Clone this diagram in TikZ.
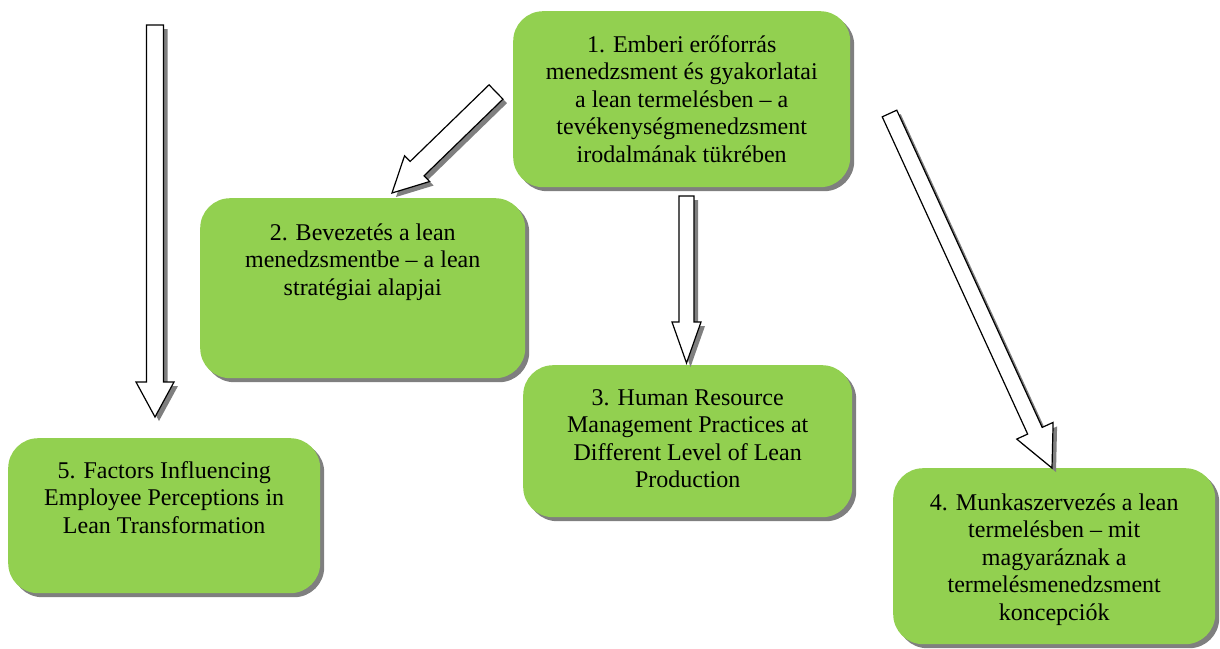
\documentclass[tikz,border=0pt]{standalone}
\usepackage{fontspec}
\setmainfont{Liberation Serif}
\usetikzlibrary{calc,shadows}
\definecolor{boxgreen}{HTML}{92D050}
\definecolor{shadowgray}{HTML}{7F7F7F}
\tikzset{
  greenbox/.style={draw=none, fill=boxgreen, rounded corners=30pt, inner sep=0pt,
    anchor=north west, general shadow={fill=shadowgray, shadow xshift=4pt, shadow yshift=-4pt}},
  boxtext/.style={anchor=base, align=center, inner sep=0pt, font=\fontsize{24}{27.6}\selectfont},
  blockarrow/.style={draw=black, line width=1.2pt, fill=white, line join=miter,
    general shadow={fill=shadowgray, shadow xshift=4pt, shadow yshift=-4pt}}
}
% tail, tip, half shaft width, half head width, head length
\newcommand{\blkarrow}[5]{%
  \coordinate (#1-#2-h) at ($(#2)!#5!(#1)$);
  \draw[blockarrow] ($(#1)!#3!90:(#2)$) -- ($(#1-#2-h)!#3!90:(#2)$) -- ($(#1-#2-h)!#4!90:(#2)$)
    -- (#2) -- ($(#1-#2-h)!#4!-90:(#2)$) -- ($(#1-#2-h)!#3!-90:(#2)$) -- ($(#1)!#3!-90:(#2)$) -- cycle;
}
\begin{document}
\begin{tikzpicture}[x=1pt,y=-1pt]
\useasboundingbox (0,0) rectangle (1220,648);

% boxes
\node[greenbox, minimum width=337pt, minimum height=176pt] (b1) at (513,11) {};
\node[greenbox, minimum width=325pt, minimum height=180pt] (b2) at (200,198) {};
\node[greenbox, minimum width=329pt, minimum height=152pt] (b3) at (523,365) {};
\node[greenbox, minimum width=322pt, minimum height=176pt] (b4) at (893,468) {};
\node[greenbox, minimum width=312pt, minimum height=155pt] (b5) at (8,438) {};

% texts (anchored at the baseline of their last line)
\node[boxtext] (t1) at ($(b1.north)+(0,151.4)$) {1. Emberi erőforrás\\menedzsment és gyakorlatai\\a lean termelésben – a\\tevékenységmenedzsment\\irodalmának tükrében};
\node[boxtext] (t2) at ($(b2.north)+(0,97.2)$) {2. Bevezetés a lean\\menedzsmentbe – a lean\\stratégiai alapjai};
\node[boxtext] (t3) at ($(b3.north)+(0,122.8)$) {3. Human Resource\\Management Practices at\\Different Level of Lean\\Production};
\node[boxtext] (t4) at ($(b4.north)+(0,152.4)$) {4. Munkaszervezés a lean\\termelésben – mit\\magyaráznak a\\termelésmenedzsment\\koncepciók};
\node[boxtext] (t5) at ($(b5.north)+(0,95.2)$) {5. Factors Influencing\\Employee Perceptions in\\Lean Transformation};

% arrows
\coordinate (a5t) at (155,25);
\coordinate (a5p) at (155,417);
\coordinate (a3t) at (686.5,196);
\coordinate (a3p) at (686.5,363);
\coordinate (a2t) at (496,92);
\coordinate (a2p) at (392,193);
\coordinate (a4t) at (889.5,113.5);
\coordinate (a4p) at (1052,468);

\blkarrow{a5t}{a5p}{8.5pt}{19pt}{35pt}
\blkarrow{a3t}{a3p}{7.5pt}{14.5pt}{41pt}
\blkarrow{a2t}{a2p}{10pt}{18pt}{35pt}
\blkarrow{a4t}{a4p}{8pt}{20pt}{41pt}
\end{tikzpicture}
\end{document}
